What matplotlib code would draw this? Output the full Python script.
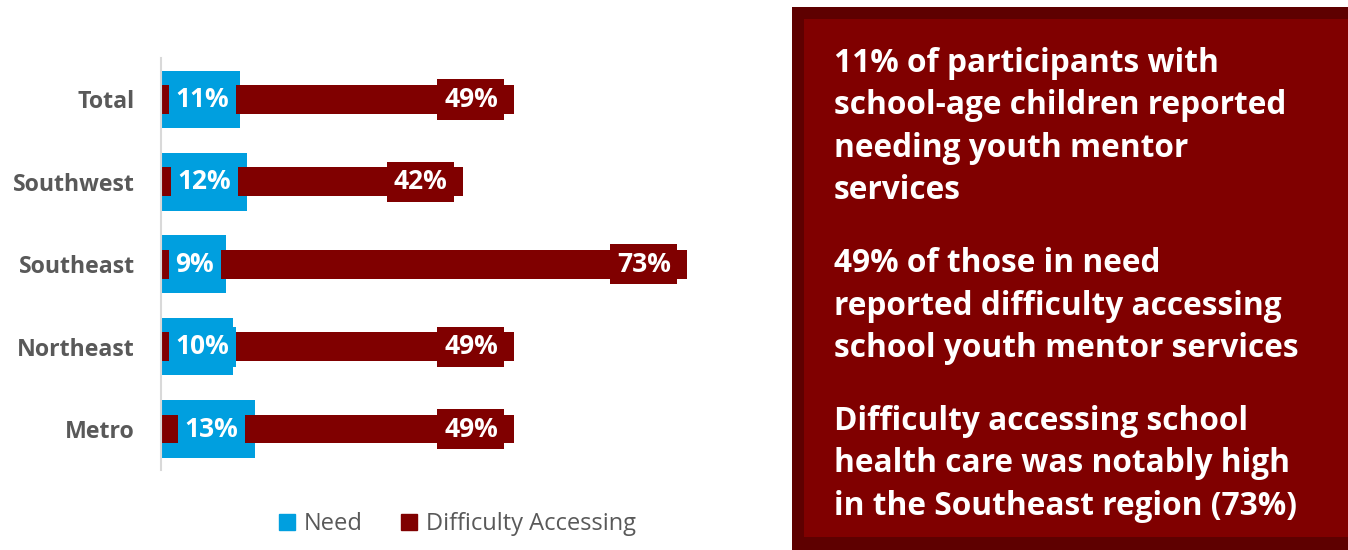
import matplotlib.pyplot as plt
from matplotlib.patches import Patch, Rectangle

plt.rcParams['font.family'] = ['Open Sans', 'DejaVu Sans']

# data
regions = ['Total', 'Southwest', 'Southeast', 'Northeast', 'Metro']
need = [11, 12, 9, 10, 13]
difficulty = [49, 42, 73, 49, 49]

notes = [
    ['11% of participants with',
     'school-age children reported',
     'needing youth mentor',
     'services'],
    ['49% of those in need',
     'reported difficulty accessing',
     'school youth mentor services'],
    ['Difficulty accessing school',
     'health care was notably high',
     'in the Southeast region (73%)'],
]

BLUE = '#009FDF'
RED = '#800000'
DARK = '#5E0000'
GREY = '#595959'

W, H = 1348, 550
fig = plt.figure(figsize=(W / 100, H / 100), dpi=100)
ax = fig.add_axes([161 / W, 0.1451, 576 / W, 0.7489])

y = list(range(len(regions)))
ax.barh(y, need, height=0.70, color=BLUE, zorder=1)
ax.barh(y, difficulty, height=0.35, color=RED, zorder=2)


def bar_label(v, yi, fc):
    # inside-end label on a box of the bar colour
    return ax.annotate('%d%%' % v, (v, yi), xytext=(-11.5, 0), textcoords='offset points',
                       ha='right', va='center', color='white', fontsize=19, fontweight='bold',
                       bbox=dict(boxstyle='square,pad=0.25', fc=fc, ec='none'), zorder=3)


need_labels = [bar_label(v, yi, BLUE) for yi, v in zip(y, need)]
diff_labels = [bar_label(v, yi, RED) for yi, v in zip(y, difficulty)]

ax.set_xlim(0, 80)
ax.set_ylim(len(regions) - 0.5, -0.5)
ax.set_yticks(y)
ax.set_yticklabels(regions, fontsize=16.7, fontweight='bold', color=GREY)
ax.tick_params(axis='y', length=0, pad=19)
ax.set_xticks([])
for s in ['top', 'right', 'bottom']:
    ax.spines[s].set_visible(False)
ax.spines['left'].set_color('#D9D9D9')
ax.spines['left'].set_linewidth(1.5)

handles = [Patch(color=BLUE, label='Need'), Patch(color=RED, label='Difficulty Accessing')]
fig.legend(handles=handles, loc='center', bbox_to_anchor=(457.5 / W, 1 - 524 / H), ncol=2,
           frameon=False, fontsize=17, handlelength=0.68, handleheight=0.68,
           handletextpad=0.38, columnspacing=1.65, labelcolor=GREY)

# summary panel on the right
fig.patches.append(Rectangle((792 / W, 0), 1 - 792 / W, 1 - 7 / H,
                             transform=fig.transFigure, fc=DARK, ec='none', zorder=0))
fig.patches.append(Rectangle((804 / W, 13 / H), 1 - 804 / W, (537 - 19) / H,
                             transform=fig.transFigure, fc=RED, ec='none', zorder=0))

baselines = [[72, 114, 157, 199], [272, 315, 357], [430, 472, 515]]
for lines, ys in zip(notes, baselines):
    for line, yy in zip(lines, ys):
        fig.text(834 / W, 1 - yy / H, line, ha='left', va='baseline',
                 color='white', fontsize=22.8, fontweight='bold')

# keep short-bar labels from running past the axis start
fig.canvas.draw()
renderer = fig.canvas.get_renderer()
left_px = ax.get_window_extent(renderer).x0 + 8
for ann in need_labels:
    x0 = ann.get_bbox_patch().get_window_extent(renderer).x0
    if x0 < left_px:
        dx, dy = ann.xyann
        ann.xyann = (dx + (left_px - x0) * 72 / fig.dpi, dy)

fig.savefig('out.png', dpi=100)
